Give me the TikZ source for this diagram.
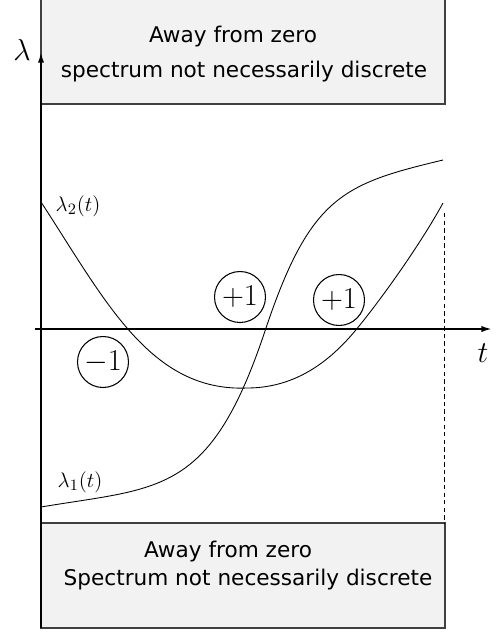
\documentclass[tikz,border=0pt]{standalone}
\usepackage{fontspec}
\setmainfont{DejaVu Sans}
\usetikzlibrary{arrows.meta, positioning}

\begin{document}
\begin{tikzpicture}[
    x=0.02cm, y=-0.02cm,
    region/.style={draw=black!75, fill=black!5, line width=0.7pt},
    boxtext/.style={font=\fontsize{12.3}{14}\selectfont, inner sep=0pt, anchor=base},
    axis/.style={draw, line width=1pt, -{Latex[length=6pt, width=3.5pt]}},
    curve/.style={draw, line width=0.5pt},
    count/.style={circle, draw, line width=0.6pt, minimum size=1.02cm, inner sep=0pt, font=\fontsize{17}{20}\selectfont},
    eig/.style={font=\fontsize{12.5}{14}\selectfont, inner sep=0pt}
]
    \useasboundingbox (0,0) rectangle (497,635);

    \path [region] (41,-5) rectangle (445,104);
    \path [region] (41,523) rectangle (445,628);
    \node [boxtext] (topline) at (233,43) {Away from zero};
    \node [boxtext] (topnote) at (244,78) {spectrum not necessarily discrete};
    \node [boxtext] (botline) at (228,557) {Away from zero};
    \node [boxtext] (botnote) at (248,585) {Spectrum not necessarily discrete};

    \coordinate (ybot) at (41,628);
    \coordinate (ytop) at (41,52);
    \coordinate (xleft) at (35,329);
    \coordinate (xright) at (492,329);
    \path [axis] (ybot) -- (ytop);
    \path [axis] (xleft) -- (xright);
    \node [font=\fontsize{17}{20}\selectfont] (lam) at (22,50) {$\lambda$};
    \node [font=\fontsize{18}{20}\selectfont] (time) at (483,353) {$t$};

    \coordinate (dtop) at (444,213);
    \coordinate (dbot) at (444,523);
    \draw [dash pattern=on 2.5pt off 1.8pt, line width=0.5pt] (dtop) -- (dbot);

    \coordinate (twostart) at (41,202);
    \coordinate (twomin) at (247,388);
    \coordinate (twocross) at (355,331);
    \coordinate (twoend) at (443,203);
    \path [curve] (twostart) .. controls (105,300) and (150,392) .. (twomin)
        .. controls (290,388) and (325,367) .. (twocross)
        .. controls (380,301) and (420,245) .. (twoend);

    \coordinate (onestart) at (41,507);
    \coordinate (onecross) at (265,331);
    \coordinate (oneend) at (443,160);
    \path [curve] (onestart) .. controls (160,487) and (210,496) .. (onecross)
        .. controls (310,196) and (343,184) .. (oneend);

    \node [eig] (lamtwo) at (78,206) {$\lambda_2(t)$};
    \node [eig] (lamone) at (80,482) {$\lambda_1(t)$};

    \node [count] (minus) at (103,362) {$-1$};
    \node [count] (plusa) at (240,297) {$+1$};
    \node [count] (plusb) at (339,300) {$+1$};
\end{tikzpicture}
\end{document}
